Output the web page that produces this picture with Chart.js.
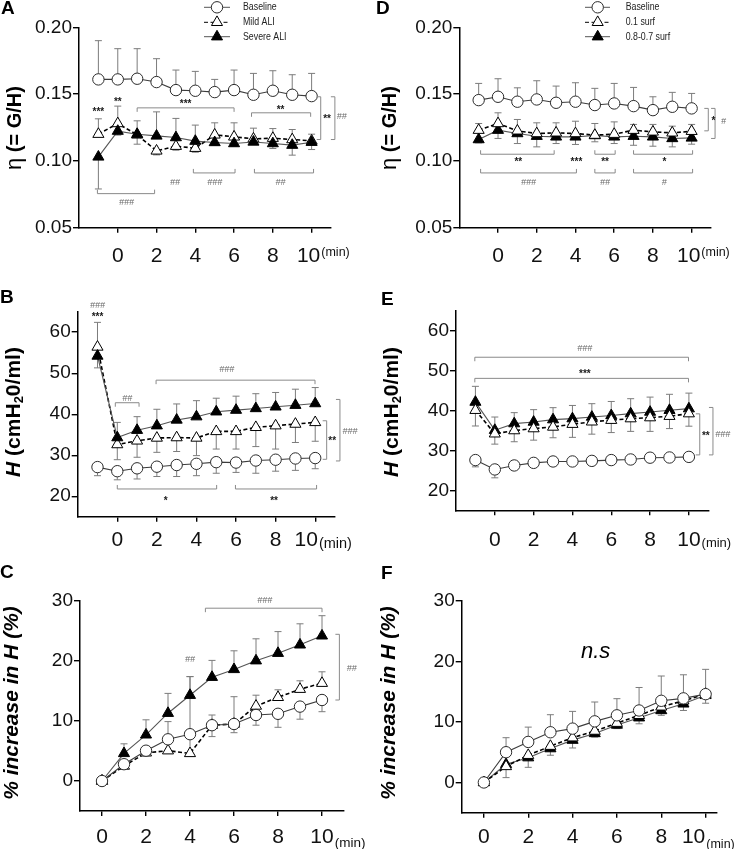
<!DOCTYPE html>
<html>
<head>
<meta charset="utf-8">
<script src="https://cdn.jsdelivr.net/npm/chart.js@4/dist/chart.umd.min.js"></script>
<style>
  html, body { margin: 0; padding: 0; background: #fff; }
  #fig { position: relative; width: 750px; height: 849px; overflow: hidden; }
  #fig canvas { position: absolute; }
</style>
</head>
<body>
<div id="fig"></div>
<script>
// x values
const minutesPre = [-1, 0, 1, 2, 3, 4, 5, 6, 7, 8, 9, 10];
const minutesPct = [0, 1, 2, 3, 4, 5, 6, 7, 8, 9, 10];
const xTicks = [0, 2, 4, 6, 8, 10];
const etaTicks = [0.05, 0.10, 0.15, 0.20];
const hTicks = [20, 30, 40, 50, 60];
const pctTicks = [0, 10, 20, 30];

// error values are SD; sign gives the side the bar is drawn on (+ up, - down)
// A: eta, ALI groups
const etaAliBase = [0.161, 0.161, 0.1615, 0.159, 0.153, 0.1525, 0.1515, 0.153, 0.1495, 0.1525, 0.1495, 0.1485];
const etaAliBaseErr = [0.029, 0.023, 0.0225, 0.0175, 0.015, 0.0145, 0.0095, 0.015, 0.016, 0.015, 0.015, 0.017];
const etaAliMild = [0.120, 0.128, 0.1195, 0.1075, 0.111, 0.1095, 0.1195, 0.118, 0.1165, 0.117, 0.116, 0.115];
const etaAliMildErr = [0.0115, 0.013, 0.0105, -0.003, -0.003, -0.003, 0.009, 0.0105, 0.008, 0.0072, 0.0075, 0.005];
const etaAliSevere = [0.103, 0.1223, 0.120, 0.1187, 0.1175, 0.1148, 0.1138, 0.113, 0.1142, 0.113, 0.1118, 0.114];
const etaAliSevereErr = [-0.024, -0.003, -0.0075, 0.018, 0.0143, 0.012, -0.002, -0.002, -0.002, -0.0037, -0.0075, -0.0055];

// D: eta, surfactant groups
const etaSurfBase = [0.1455, 0.148, 0.1443, 0.146, 0.1435, 0.1443, 0.1418, 0.143, 0.141, 0.138, 0.1405, 0.1393];
const etaSurfBaseErr = [0.0125, 0.0135, 0.0104, 0.014, 0.0125, 0.0142, 0.0125, 0.015, 0.014, 0.010, 0.0108, 0.0112];
const etaSurfLow = [0.123, 0.128, 0.1225, 0.1205, 0.121, 0.1205, 0.1193, 0.120, 0.123, 0.1217, 0.121, 0.1222];
const etaSurfLowErr = [0.005, 0.008, 0.0085, 0.008, 0.0075, 0.0092, 0.0087, 0.0092, 0.0043, 0.0056, 0.005, 0.0051];
const etaSurfHigh = [0.116, 0.123, 0.1205, 0.1185, 0.118, 0.118, 0.119, 0.118, 0.1185, 0.118, 0.1168, 0.1172];
const etaSurfHighErr = [-0.0025, -0.0062, -0.0075, -0.008, -0.005, -0.0057, -0.0047, -0.005, -0.0068, -0.007, -0.0063, -0.0047];

// B: H, ALI groups
const hAliBase = [27.1, 26.1, 26.8, 27.2, 27.6, 27.9, 28.3, 28.2, 28.7, 28.9, 29.2, 29.3];
const hAliBaseErr = [-2.1, -2.1, -2.6, -2.4, -2.8, -2.9, -2.7, -2.4, -3.1, -2.8, -2.9, -2.6];
const hAliMild = [56.4, 32.6, 33.5, 34.2, 34.3, 34.2, 35.8, 35.8, 36.8, 37.2, 37.6, 38.0];
const hAliMildErr = [6.0, -3.7, -4.0, -3.5, -3.4, -4.3, -4.3, -4.3, -4.7, -5.7, -4.5, -4.6];
const hAliSevere = [54.2, 34.3, 36.1, 37.2, 38.6, 39.4, 40.6, 41.0, 41.4, 41.8, 42.2, 42.6];
const hAliSevereErr = [-2.9, 3.7, 3.3, 4.0, 3.9, 3.9, 3.3, 3.4, 3.6, 3.5, 3.9, 3.9];

// E: H, surfactant groups
const hSurfBase = [27.6, 25.25, 26.25, 26.9, 27.25, 27.25, 27.4, 27.6, 27.75, 28.2, 28.25, 28.4];
const hSurfBaseErr = [-1.7, -2.1, -0.8, -0.9, -0.8, -0.8, -0.8, -0.8, -0.8, -0.8, -0.8, -0.8];
const hSurfLow = [40.1, 34.2, 35.0, 35.5, 35.9, 36.6, 37.2, 37.6, 38.0, 38.25, 38.6, 39.25];
const hSurfLowErr = [-3.95, -2.6, -2.8, -2.9, -2.7, -3.3, -3.1, -3.1, -3.2, -3.45, -3.1, -3.15];
const hSurfHigh = [42.15, 35.1, 36.75, 37.15, 37.75, 38.0, 38.4, 38.8, 39.25, 39.65, 40.1, 40.5];
const hSurfHighErr = [3.95, 3.3, 2.75, 3.1, 3.0, 3.3, 3.35, 3.5, 3.75, 3.75, 4.0, 3.9];

// C: % increase in H, ALI groups
const pctAliBase = [0, 2.8, 5.05, 6.95, 7.8, 9.3, 9.5, 11.0, 11.2, 12.4, 13.5];
const pctAliBaseErr = [0, 0, 0, 2.95, 0, -1.9, -1.45, -1.7, -2.25, -2.1, -1.95];
const pctAliMild = [0, 2.5, 4.7, 5.05, 4.6, 9.3, 9.5, 12.5, 13.95, 15.3, 16.3];
const pctAliMildErr = [0, 0, 0, 0, 12.8, 1.7, 4.55, 1.8, 1.25, 1.4, 1.9];
const pctAliSevere = [0, 4.6, 7.7, 11.3, 14.3, 17.3, 18.6, 20.05, 21.3, 22.7, 24.2];
const pctAliSevereErr = [0, 1.6, 2.5, 3.3, 3.1, 2.8, 3.1, 3.65, 3.6, 3.5, 3.35];

// F: % increase in H, surfactant groups
const pctSurfBase = [0, 5.0, 6.7, 8.3, 8.9, 10.1, 11.1, 11.9, 13.5, 13.9, 14.6];
const pctSurfBaseErr = [0, 2.4, 2.45, 2.9, 2.85, 3.2, 2.75, 3.8, 4.1, 3.9, 4.1];
const pctSurfLow = [0, 2.65, 4.5, 6.0, 7.4, 8.5, 9.8, 11.1, 12.5, 13.5, 14.6];
const pctSurfLowErr = [0, -1.85, -2.0, -1.5, -1.7, -1.0, -0.9, -1.4, -1.4, -1.6, -1.5];
const pctSurfHigh = [0, 3.0, 4.1, 5.6, 7.0, 8.1, 9.5, 10.7, 11.9, 13.0, 14.4];
const pctSurfHighErr = [0, 0, 0, 0, 0, 0, 0, 0, 0, 0, 0];

// significance marks, in data units: brackets [x1, x2, y, tips], sides [x, y1, y2], texts [label, x, y]
const bracketsA = [[1, 6, 0.1397, 'down'], [6.9, 9.95, 0.136, 'down'], [-1.05, 1.9, 0.0755, 'up'], [3.9, 6.05, 0.091, 'up'], [7.05, 10.1, 0.091, 'up']];
const sidesA = [[10.47, 0.148, 0.116], [11.2, 0.148, 0.116]];
const textsA = [['***', -1, 0.138], ['**', 0, 0.1455], ['***', 3.5, 0.1442], ['**', 8.4, 0.140],
  ['###', 0.45, 0.0692], ['##', 2.95, 0.0835], ['###', 5.0, 0.0835], ['##', 8.4, 0.0835], ['**', 10.8, 0.133], ['##', 11.55, 0.133]];

const bracketsD = [[-0.9, 2.9, 0.105, 'up'], [5, 6.05, 0.105, 'up'], [7, 10.05, 0.105, 'up'],
  [-0.9, 4.05, 0.091, 'up'], [5, 6.05, 0.091, 'up'], [7, 10.05, 0.091, 'up']];
const sidesD = [[10.86, 0.1393, 0.1225], [11.21, 0.1393, 0.1168]];
const textsD = [['**', 1.05, 0.101], ['***', 4.05, 0.101], ['**', 5.53, 0.101], ['*', 8.59, 0.101],
  ['###', 1.57, 0.0842], ['##', 5.53, 0.0842], ['#', 8.59, 0.0842], ['*', 11.12, 0.1313], ['#', 11.64, 0.1292]];

const bracketsB = [[-0.1, 1.1, 42.8, 'down'], [1.96, 9.99, 48.3, 'down'], [0, 5.02, 21.76, 'up'], [5.97, 10.07, 21.76, 'up']];
const sidesB = [[10.58, 38.4, 29.0], [11.25, 43.6, 28.6]];
const textsB = [['###', -1, 66.46], ['***', -1, 64.2], ['##', 0.5, 43.9], ['###', 5.53, 50.8],
  ['*', 2.45, 19.5], ['**', 7.92, 19.5], ['**', 10.86, 34.1], ['###', 11.76, 35.7]];

const bracketsE = [[-1.03, 9.98, 53.4, 'down'], [-1.03, 9.98, 48.1, 'down']];
const sidesE = [[10.56, 39.2, 28.9], [11.24, 40.8, 28.9]];
const textsE = [['###', 4.64, 55.6], ['***', 4.64, 49.8], ['**', 10.87, 34.1], ['###', 11.75, 34.1]];

const bracketsC = [[4.7, 10, 28.8, 'down']];
const sidesC = [[10.79, 24.45, 13.5]];
const textsC = [['###', 7.4, 30.05], ['##', 4.0, 20.2], ['##', 11.35, 18.8]];

const textsF = [['n.s', 5.04, 21.6]];

const FONT = '"Liberation Sans", Arial, Helvetica, sans-serif';
const Y_W = 70;

const STYLE = {
  base: { line: '#3c3c3c', width: 1.1, dash: [], shape: 'circle', r: 5.7, fill: '#fff', stroke: '#2a2a2a' },
  open: { line: '#000', width: 1.6, dash: [4, 2.5], shape: 'triangle', r: 6.4, fill: '#fff', stroke: '#000' },
  solid: { line: '#555', width: 1.1, dash: [], shape: 'triangle', r: 6.4, fill: '#000', stroke: '#000' },
};

const etaTitle = [['η', `22px ${FONT}`, 0], [' (= G/H)', `bold 20px ${FONT}`, 0]];
const hTitle = [['H', `bold italic 21px ${FONT}`, 0], [' (cmH', `bold 21px ${FONT}`, 0],
  ['2', `bold 13px ${FONT}`, 5], ['0/ml)', `bold 21px ${FONT}`, 0]];
const pctTitle = [['% increase in H (%)', `bold italic 21px ${FONT}`, 0]];

// layout of each panel (page pixels); tenShift moves the "10" label off its tick
const panels = [
  { letter: 'A', box: [0, 0, 375, 285], area: [79, 27.3, 331, 227.7], xH: 50, xRange: [-2, 11], yRange: [0.05, 0.20],
    yTicks: etaTicks, dec: 2, xPad: 11, tenShift: -3, minUnit: { size: 12.5, dy: -4 }, minutes: minutesPre,
    letterAt: [1, 14], titleAt: [15, 128], title: etaTitle,
    series: [
      { label: 'Baseline', kind: 'base', order: 0, vals: etaAliBase, err: etaAliBaseErr },
      { label: 'Mild ALI', kind: 'open', order: 2, vals: etaAliMild, err: etaAliMildErr },
      { label: 'Severe ALI', kind: 'solid', order: 1, vals: etaAliSevere, err: etaAliSevereErr },
    ],
    legend: { x0: 204, x1: 230, mx: 217, tx: 243, rows: [7.3, 22.3, 36.7] },
    brackets: bracketsA, sides: sidesA, texts: textsA },
  { letter: 'D', box: [375, 0, 375, 285], area: [459.3, 27.3, 711, 227.7], xH: 50, xRange: [-2, 11], yRange: [0.05, 0.20],
    yTicks: etaTicks, dec: 2, xPad: 11, tenShift: -3, minUnit: { size: 12.5, dy: -4 }, minutes: minutesPre,
    letterAt: [376, 14], titleAt: [390, 128], title: etaTitle,
    series: [
      { label: 'Baseline', kind: 'base', order: 0, vals: etaSurfBase, err: etaSurfBaseErr },
      { label: '0.1 surf', kind: 'open', order: 1, vals: etaSurfLow, err: etaSurfLowErr },
      { label: '0.8-0.7 surf', kind: 'solid', order: 2, vals: etaSurfHigh, err: etaSurfHighErr },
    ],
    legend: { x0: 585, x1: 610, mx: 597.7, tx: 625.7, rows: [7.3, 22.3, 36.7] },
    brackets: bracketsD, sides: sidesD, texts: textsD },
  { letter: 'B', box: [0, 270, 375, 300], area: [77.7, 311.7, 335, 516.7], xH: 50, xRange: [-2, 11], yRange: [15, 65],
    yTicks: hTicks, dec: 0, xPad: 5.5, tenShift: -9, minUnit: { size: 14.5, dy: 4 }, minutes: minutesPre,
    letterAt: [0, 303], titleAt: [14, 412], title: hTitle,
    series: [
      { label: 'Baseline', kind: 'base', order: 0, vals: hAliBase, err: hAliBaseErr },
      { label: 'Mild ALI', kind: 'open', order: 2, vals: hAliMild, err: hAliMildErr },
      { label: 'Severe ALI', kind: 'solid', order: 1, vals: hAliSevere, err: hAliSevereErr },
    ],
    brackets: bracketsB, sides: sidesB, texts: textsB },
  { letter: 'E', box: [375, 270, 375, 300], area: [456, 311, 708.3, 510.3], xH: 50, xRange: [-2, 11], yRange: [15, 65],
    yTicks: hTicks, dec: 0, xPad: 12.5, tenShift: 0, minUnit: { size: 13, dy: 3 }, minutes: minutesPre,
    letterAt: [381, 305], titleAt: [392, 412], title: hTitle,
    series: [
      { label: 'Baseline', kind: 'base', order: 0, vals: hSurfBase, err: hSurfBaseErr },
      { label: '0.1 surf', kind: 'open', order: 1, vals: hSurfLow, err: hSurfLowErr },
      { label: '0.8-0.7 surf', kind: 'solid', order: 2, vals: hSurfHigh, err: hSurfHighErr },
    ],
    brackets: bracketsE, sides: sidesE, texts: textsE },
  { letter: 'C', box: [0, 555, 375, 294], area: [80, 601, 344, 811], xH: 38, xRange: [-1, 11], yRange: [-5, 30],
    yTicks: pctTicks, dec: 0, xPad: 8.5, tenShift: 0, minUnit: { size: 13.5, dy: 6 }, minutes: minutesPct,
    letterAt: [0, 578], titleAt: [12, 703], title: pctTitle,
    series: [
      { label: 'Baseline', kind: 'base', order: 0, vals: pctAliBase, err: pctAliBaseErr },
      { label: 'Mild ALI', kind: 'open', order: 2, vals: pctAliMild, err: pctAliMildErr },
      { label: 'Severe ALI', kind: 'solid', order: 1, vals: pctAliSevere, err: pctAliSevereErr },
    ],
    brackets: bracketsC, sides: sidesC, texts: textsC },
  { letter: 'F', box: [375, 555, 375, 294], area: [461.7, 601, 716.7, 812.7], xH: 36.3, xRange: [-1, 10.5], yRange: [-5, 30],
    yTicks: pctTicks, dec: 0, xPad: 7, tenShift: -12, minUnit: { size: 12.5, dy: 7 }, minutes: minutesPct,
    letterAt: [381, 579], titleAt: [389.5, 703], title: pctTitle,
    series: [
      { label: 'Baseline', kind: 'base', order: 0, vals: pctSurfBase, err: pctSurfBaseErr },
      { label: '0.1 surf', kind: 'open', order: 1, vals: pctSurfLow, err: pctSurfLowErr },
      { label: '0.8-0.7 surf', kind: 'solid', order: 2, vals: pctSurfHigh, err: pctSurfHighErr },
    ],
    texts: textsF },
];

function drawMarker(ctx, st, x, y) {
  ctx.beginPath();
  if (st.shape === 'circle') {
    ctx.arc(x, y, st.r, 0, Math.PI * 2);
  } else {
    for (let k = 0; k < 3; k++) {
      const a = -Math.PI / 2 + k * 2 * Math.PI / 3;
      const px = x + Math.cos(a) * st.r, py = y + Math.sin(a) * st.r;
      k ? ctx.lineTo(px, py) : ctx.moveTo(px, py);
    }
    ctx.closePath();
  }
  ctx.fillStyle = st.fill;
  ctx.fill();
  ctx.strokeStyle = st.stroke;
  ctx.lineWidth = 1;
  ctx.stroke();
}

function rotatedTitle(ctx, cx, cy, segs) {
  ctx.save();
  ctx.translate(cx, cy);
  ctx.rotate(-Math.PI / 2);
  ctx.fillStyle = '#000';
  ctx.textAlign = 'left';
  ctx.textBaseline = 'middle';
  let total = 0;
  const widths = segs.map(([t, f]) => { ctx.font = f; const w = ctx.measureText(t).width; total += w; return w; });
  let x = -total / 2;
  segs.forEach(([t, f, dy], i) => { ctx.font = f; ctx.fillText(t, x, dy); x += widths[i]; });
  ctx.restore();
}

function figPlugin(p) {
  return {
    id: 'deco' + p.letter,
    beforeDatasetsDraw(chart) {
      const { ctx } = chart, xs = chart.scales.x, ys = chart.scales.y;
      ctx.save();
      ctx.strokeStyle = '#7c7c7c';
      ctx.lineWidth = 1;
      chart.data.datasets.forEach(ds => {
        ds.data.forEach((pt, i) => {
          const e = ds.err[i];
          if (!e) return;
          const px = xs.getPixelForValue(pt.x);
          const y0 = ys.getPixelForValue(pt.y);
          const y1 = ys.getPixelForValue(pt.y + e);
          ctx.beginPath();
          ctx.moveTo(px, y0); ctx.lineTo(px, y1);
          ctx.moveTo(px - 3.5, y1); ctx.lineTo(px + 3.5, y1);
          ctx.stroke();
        });
      });
      ctx.restore();
    },
    afterDraw(chart) {
      const { ctx } = chart, xs = chart.scales.x, ys = chart.scales.y;
      const ox = p.box[0], oy = p.box[1];
      ctx.save();

      // panel letter and y title
      ctx.fillStyle = '#000';
      ctx.font = `bold 19px ${FONT}`;
      ctx.textAlign = 'left';
      ctx.textBaseline = 'alphabetic';
      ctx.fillText(p.letter, p.letterAt[0] - ox, p.letterAt[1] - oy);
      rotatedTitle(ctx, p.titleAt[0] - ox, p.titleAt[1] - oy, p.title);

      // last tick label "10" with its unit
      const labelY = xs.top + 5 + p.xPad + 12.6;
      const tenX = xs.getPixelForValue(10) + p.tenShift;
      ctx.font = `21px ${FONT}`;
      ctx.fillStyle = '#111';
      ctx.textAlign = 'center';
      ctx.textBaseline = 'middle';
      ctx.fillText('10', tenX, labelY);
      const w10 = ctx.measureText('10').width;
      ctx.font = `${p.minUnit.size}px ${FONT}`;
      ctx.textAlign = 'left';
      ctx.fillText('(min)', tenX + w10 / 2 + 1, labelY + p.minUnit.dy);

      // significance brackets
      ctx.strokeStyle = '#8a8a8a';
      ctx.lineWidth = 1;
      (p.brackets || []).forEach(([a, b, v, tips]) => {
        const x1 = xs.getPixelForValue(a), x2 = xs.getPixelForValue(b), y = ys.getPixelForValue(v);
        const d = tips === 'down' ? 4 : -4;
        ctx.beginPath();
        ctx.moveTo(x1, y + d); ctx.lineTo(x1, y); ctx.lineTo(x2, y); ctx.lineTo(x2, y + d);
        ctx.stroke();
      });
      (p.sides || []).forEach(([a, v1, v2]) => {
        const x = xs.getPixelForValue(a), y1 = ys.getPixelForValue(v1), y2 = ys.getPixelForValue(v2);
        ctx.beginPath();
        ctx.moveTo(x - 4, y1); ctx.lineTo(x, y1); ctx.lineTo(x, y2); ctx.lineTo(x - 4, y2);
        ctx.stroke();
      });
      ctx.textAlign = 'center';
      ctx.textBaseline = 'middle';
      (p.texts || []).forEach(([t, a, v]) => {
        const x = xs.getPixelForValue(a), y = ys.getPixelForValue(v);
        if (t[0] === '*') {
          ctx.font = `bold 10px ${FONT}`; ctx.fillStyle = '#1a1a1a'; ctx.fillText(t, x, y + 2.5);
        } else if (t[0] === '#') {
          ctx.font = `italic 9px ${FONT}`; ctx.fillStyle = '#6a6a6a'; ctx.fillText(t, x, y);
        } else {
          ctx.font = `italic 22px ${FONT}`; ctx.fillStyle = '#000'; ctx.fillText(t, x, y);
        }
      });

      // legend (A and D only)
      if (p.legend) {
        const L = p.legend;
        p.series.forEach((s, k) => {
          const st = STYLE[s.kind], y = L.rows[k] - oy;
          ctx.strokeStyle = s.kind === 'open' ? '#000' : '#555';
          ctx.lineWidth = 1;
          ctx.setLineDash(st.dash);
          ctx.beginPath(); ctx.moveTo(L.x0 - ox, y); ctx.lineTo(L.x1 - ox, y); ctx.stroke();
          ctx.setLineDash([]);
          drawMarker(ctx, st, L.mx - ox, y);
          ctx.font = `11px ${FONT}`;
          ctx.fillStyle = '#222';
          ctx.textAlign = 'left';
          ctx.fillText(s.label, L.tx - ox, y, ctx.measureText(s.label).width * 0.8);
        });
      }
      ctx.restore();
    },
  };
}

function dataset(minutes, s) {
  const st = STYLE[s.kind];
  return {
    label: s.label,
    order: s.order,
    data: minutes.map((x, i) => ({ x, y: s.vals[i] })),
    err: s.err,
    borderColor: st.line,
    borderWidth: st.width,
    borderDash: st.dash,
    tension: 0,
    fill: false,
    clip: false,
    pointStyle: st.shape,
    pointRadius: st.r,
    pointBackgroundColor: st.fill,
    pointBorderColor: st.stroke,
    pointBorderWidth: 1,
  };
}

const fig = document.getElementById('fig');

panels.forEach(p => {
  const cv = document.createElement('canvas');
  cv.width = p.box[2];
  cv.height = p.box[3];
  cv.style.left = p.box[0] + 'px';
  cv.style.top = p.box[1] + 'px';
  fig.appendChild(cv);

  const padding = {
    left: p.area[0] - p.box[0] - Y_W,
    top: p.area[1] - p.box[1],
    right: p.box[0] + p.box[2] - p.area[2],
    bottom: Math.max(0, p.box[1] + p.box[3] - p.area[3] - p.xH),
  };

  new Chart(cv, {
    type: 'line',
    data: { datasets: p.series.map(s => dataset(p.minutes, s)) },
    options: {
      responsive: false,
      animation: false,
      devicePixelRatio: 1,
      layout: { padding, autoPadding: false },
      plugins: { legend: { display: false }, tooltip: { enabled: false } },
      scales: {
        x: {
          type: 'linear',
          min: p.xRange[0],
          max: p.xRange[1],
          afterBuildTicks: s => { s.ticks = xTicks.map(v => ({ value: v })); },
          afterFit: s => { s.height = p.xH; },
          grid: { drawOnChartArea: false, drawTicks: true, tickLength: 5, color: '#000', lineWidth: 1.4 },
          border: { display: true, color: '#000', width: 1.5 },
          ticks: {
            color: '#111',
            font: { family: FONT, size: 21 },
            padding: p.xPad,
            maxRotation: 0,
            autoSkip: false,
            callback: v => (v === 10 ? '' : String(v)),
          },
        },
        y: {
          type: 'linear',
          min: p.yRange[0],
          max: p.yRange[1],
          afterBuildTicks: s => { s.ticks = p.yTicks.map(v => ({ value: v })); },
          afterFit: s => { s.width = Y_W; },
          grid: { drawOnChartArea: false, drawTicks: true, tickLength: 6, color: '#000', lineWidth: 1.4 },
          border: { display: true, color: '#000', width: 1.5 },
          ticks: {
            color: '#111',
            font: { family: FONT, size: 19 },
            padding: 1,
            autoSkip: false,
            callback: v => v.toFixed(p.dec),
          },
        },
      },
    },
    plugins: [figPlugin(p)],
  });
});
</script>
</body>
</html>
